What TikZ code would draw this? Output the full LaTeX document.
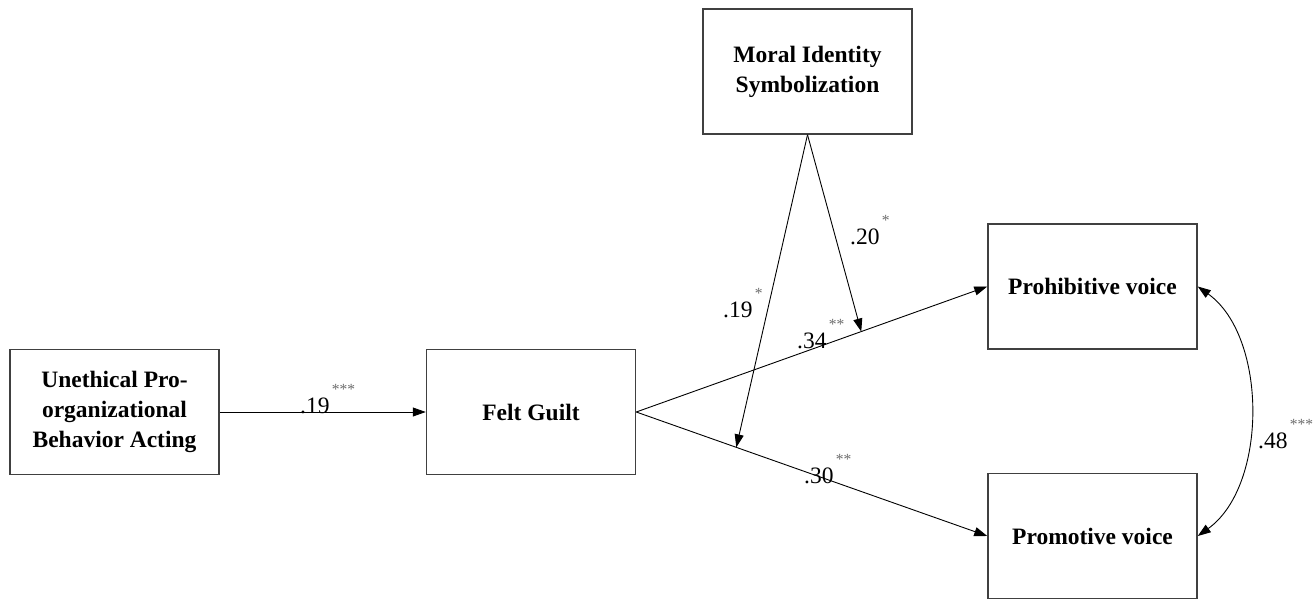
\documentclass[tikz,border=0pt]{standalone}
\usepackage{fontspec}
\setmainfont{Liberation Serif}
\usetikzlibrary{arrows.meta}
\definecolor{boxgray}{gray}{0.25}
\definecolor{stargray}{gray}{0.42}
\begin{document}
\begin{tikzpicture}[x=1pt,y=-1pt,
    var/.style={draw=boxgray, line width=1.5pt, minimum width=209pt, minimum height=125pt,
      inner sep=0pt, align=center, font=\fontsize{23.5}{30}\selectfont\bfseries},
    conn/.style={draw, line width=0.9pt, -{Triangle[length=13pt,width=9pt]}},
    coef/.style={anchor=base west, inner sep=0pt, font=\fontsize{23.5}{23.5}\selectfont},
    sig/.style={anchor=base west, inner sep=0pt, text=stargray, font=\fontsize{15.5}{15.5}\selectfont}]
    \useasboundingbox (0,0) rectangle (1316,599);
    \node[var] (upb) at (114.5,412) {Unethical Pro-\\organizational\\Behavior Acting};
    \node[var] (fg) at (531,412) {Felt Guilt};
    \node[var] (mis) at (807.5,71.5) {Moral Identity\\Symbolization};
    \node[var] (prohib) at (1092.5,286.5) {Prohibitive voice};
    \node[var] (promo) at (1092.5,536) {Promotive voice};
    \path%
      (upb.east) edge [conn] (fg.west)
      (fg.east) edge [conn] coordinate[pos=0.641] (m1) (prohib.west)
      (fg.east) edge [conn] coordinate[pos=0.285] (m2) (promo.west)
      (mis.south) edge [conn] (m1)
      (mis.south) edge [conn] (m2);
    \draw[line width=0.9pt, {Triangle[length=13pt,width=9pt]}-{Triangle[length=13pt,width=9pt]}]
      (prohib.east) .. controls +(70,50) and +(70,-50) .. (promo.east);
    % path coefficients
    \node[coef] (c1) at (300,413) {.19};
    \node[sig] (s1) at ([shift={(2,-19)}]c1.base east) {***};
    \node[coef] (c2) at (850,244) {.20};
    \node[sig] (s2) at ([shift={(2,-19)}]c2.base east) {*};
    \node[coef] (c3) at (723,317) {.19};
    \node[sig] (s3) at ([shift={(2,-19)}]c3.base east) {*};
    \node[coef] (c4) at (797,348) {.34};
    \node[sig] (s4) at ([shift={(2,-19)}]c4.base east) {**};
    \node[coef] (c5) at (804,483) {.30};
    \node[sig] (s5) at ([shift={(2,-19)}]c5.base east) {**};
    \node[coef] (c6) at (1258,448) {.48};
    \node[sig] (s6) at ([shift={(2,-19)}]c6.base east) {***};
\end{tikzpicture}
\end{document}
